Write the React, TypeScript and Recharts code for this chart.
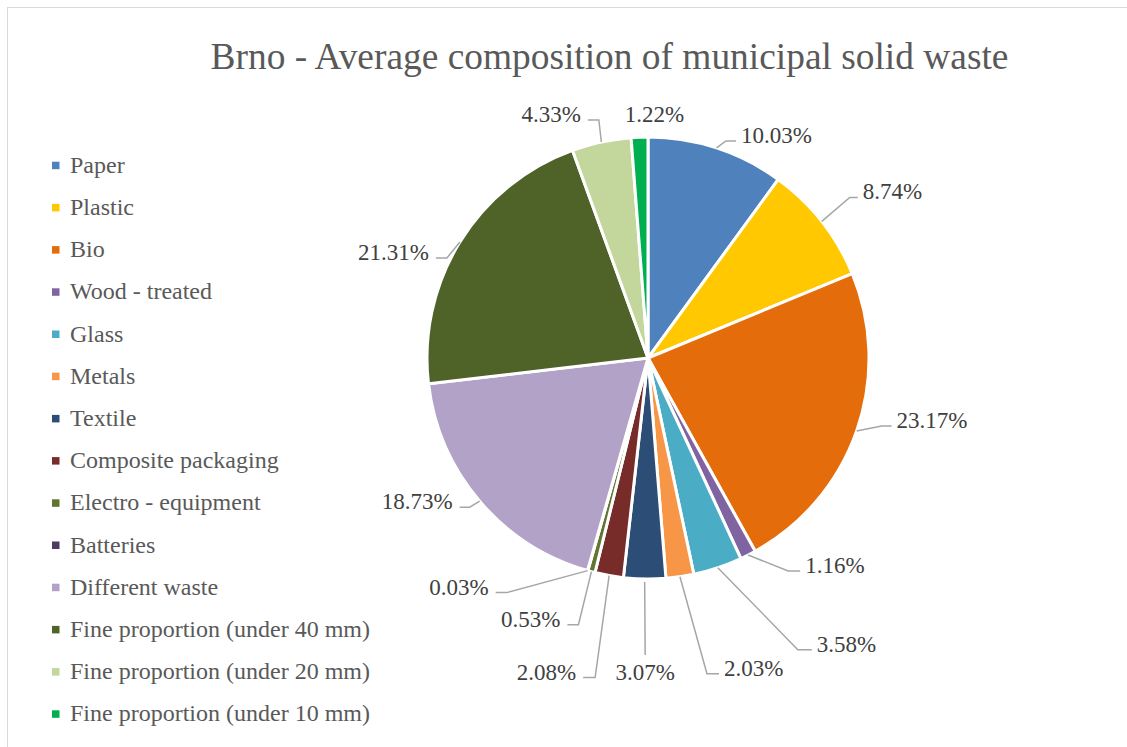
import React from 'react';
import { Cell, Legend, Pie, PieChart } from 'recharts';

const categories = [
  'Paper',
  'Plastic',
  'Bio',
  'Wood - treated',
  'Glass',
  'Metals',
  'Textile',
  'Composite packaging',
  'Electro - equipment',
  'Batteries',
  'Different waste',
  'Fine proportion (under 40 mm)',
  'Fine proportion (under 20 mm)',
  'Fine proportion (under 10 mm)',
];

// share of total mass, %
const shares = [10.03, 8.74, 23.17, 1.16, 3.58, 2.03, 3.07, 2.08, 0.53, 0.03, 18.73, 21.31, 4.33, 1.22];

const colors = [
  '#4f81bd',
  '#ffc800',
  '#e46c0a',
  '#8064a2',
  '#4bacc6',
  '#f79646',
  '#2c4d75',
  '#772c2a',
  '#5f7530',
  '#4d3b62',
  '#b3a2c7',
  '#4f6228',
  '#c3d69b',
  '#00b050',
];

// where each data label sits relative to the slice edge, and the length of the
// flat part of its leader line
const labelLayout = [
  { dx: 19.5, dy: -7, h: 10 },
  { dx: 36, dy: -24, h: 8 },
  { dx: 35, dy: -5, h: 10 },
  { dx: 52, dy: 16, h: 12 },
  { dx: 94, dy: 82, h: 14 },
  { dx: 39, dy: 97, h: 12 },
  { dx: 0.5, dy: 76, h: 0, below: true },
  { dx: -26, dy: 102, h: 12 },
  { dx: -24, dy: 53, h: 11 },
  { dx: -92, dy: 22, h: 11 },
  { dx: -20, dy: 6, h: 10 },
  { dx: -24, dy: 16, h: 11 },
  { dx: -13.5, dy: -22, h: 11 },
  { dx: 15, dy: -15, h: 0, noLine: true },
];

const data = categories.map((name, i) => ({ name, value: shares[i], fill: colors[i] }));

const FONT = "'Liberation Serif', Tinos, 'Times New Roman', 'DejaVu Serif', serif";
const RAD = Math.PI / 180;

function renderLabel(props: any) {
  const { cx, cy, midAngle, outerRadius, index, value } = props;
  const lay = labelLayout[index];
  const ex = cx + outerRadius * Math.cos(-midAngle * RAD);
  const ey = cy + outerRadius * Math.sin(-midAngle * RAD);
  const tx = ex + lay.dx;
  const ty = ey + lay.dy;
  const text = `${Number(value).toFixed(2)}%`;
  const textStyle = { fontFamily: FONT, fontSize: 23 };

  if (lay.noLine) {
    return (
      <text key={`l-${index}`} x={tx} y={ty} textAnchor="middle" fill="#404040" style={textStyle}>
        {text}
      </text>
    );
  }
  if (lay.below) {
    return (
      <g key={`l-${index}`}>
        <polyline points={`${ex},${ey + 3} ${tx},${ty}`} fill="none" stroke="#a6a6a6" strokeWidth={1.5} />
        <text x={tx} y={ty + 25} textAnchor="middle" fill="#404040" style={textStyle}>
          {text}
        </text>
      </g>
    );
  }
  const right = lay.dx > 0;
  const elbowX = right ? tx - lay.h : tx + lay.h;
  return (
    <g key={`l-${index}`}>
      <polyline
        points={`${ex},${ey} ${elbowX},${ty} ${tx},${ty}`}
        fill="none"
        stroke="#a6a6a6"
        strokeWidth={1.5}
      />
      <text
        x={right ? tx + 5 : tx - 7}
        y={ty + 2}
        textAnchor={right ? 'start' : 'end'}
        fill="#404040"
        style={textStyle}
      >
        {text}
      </text>
    </g>
  );
}

function renderLegend() {
  return (
    <svg width={400} height={747}>
      {categories.map((name, i) => {
        const base = 172.7 + i * 42.2;
        return (
          <g key={name}>
            <rect x={52} y={base - 11} width={7.5} height={7.5} fill={colors[i]} />
            <text x={70} y={base} fill="#595959" style={{ fontFamily: FONT, fontSize: 24 }}>
              {name}
            </text>
          </g>
        );
      })}
    </svg>
  );
}

export default function App() {
  return (
    <div
      style={{
        position: 'absolute',
        left: 0,
        top: 0,
        width: 1127,
        height: 747,
        overflow: 'hidden',
        background: '#fff',
        fontFamily: FONT,
      }}
    >
      <div
        style={{
          position: 'absolute',
          left: 7,
          top: 7,
          width: 1300,
          height: 900,
          border: '1px solid #d9d9d9',
        }}
      />
      <PieChart width={1127} height={747} margin={{ top: 0, right: 0, bottom: 0, left: 0 }}>
        <Pie
          data={data}
          dataKey="value"
          nameKey="name"
          cx={648}
          cy={358}
          outerRadius={221}
          startAngle={90}
          endAngle={-270}
          stroke="#fff"
          strokeWidth={3}
          label={renderLabel}
          labelLine={false}
          isAnimationActive={false}
        >
          {data.map((d) => (
            <Cell key={d.name} fill={d.fill} />
          ))}
        </Pie>
        <Legend
          content={renderLegend}
          wrapperStyle={{ left: 0, top: 0, right: 'auto', bottom: 'auto', width: 400, height: 747 }}
        />
      </PieChart>
      <div
        style={{
          position: 'absolute',
          left: 0,
          width: 1219,
          top: 0,
          textAlign: 'center',
          fontFamily: FONT,
          fontSize: 37.4,
          lineHeight: '37px',
          color: '#595959',
          paddingTop: 38,
          whiteSpace: 'nowrap',
        }}
      >
        Brno - Average composition of municipal solid waste
      </div>
    </div>
  );
}
